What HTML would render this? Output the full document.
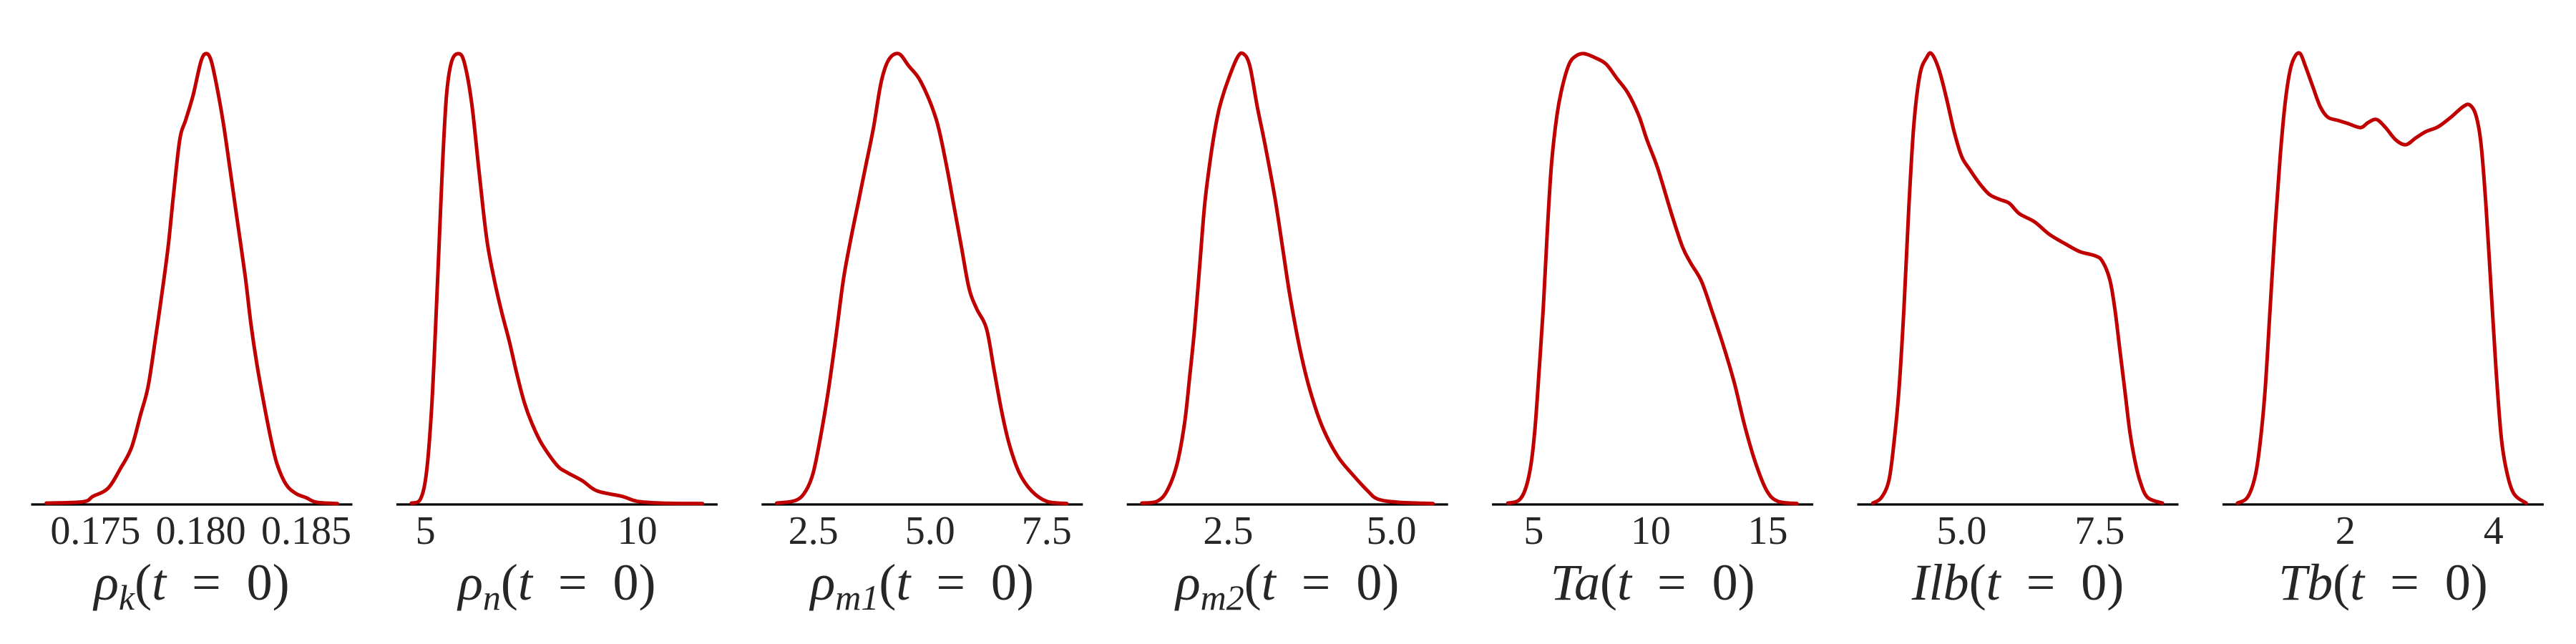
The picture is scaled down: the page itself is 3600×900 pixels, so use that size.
<!DOCTYPE html>
<html><head><meta charset="utf-8">
<style>
html,body{margin:0;padding:0;background:#fff;}
svg{display:block;}
text{font-family:"Liberation Serif","DejaVu Serif",serif;fill:#262626;}
</style></head>
<body>
<svg id="chart" width="3600" height="900" xmlns="http://www.w3.org/2000/svg"></svg>
<script>
// Panel 1: rho_k
const p1X=[0.17267,0.17441,0.17488,0.17560,0.17619,0.17671,0.17714,0.17750,0.17786,0.17814,0.17845,0.17869,0.17900,0.17929,0.17964,0.18000,0.18024,0.18048,0.18076,0.18107,0.18138,0.18171,0.18210,0.18238,0.18267,0.18302,0.18333,0.18362,0.18405,0.18452,0.18500,0.18548,0.18648];
const p1Y=[.003,.006,.018,.036,.08,.126,.199,.262,.372,.463,.572,.681,.809,.854,.909,.982,1,.986,.927,.845,.745,.636,.508,.399,.308,.217,.144,.089,.044,.024,.015,.005,.002];
// Panel 2: rho_n
const p2X=[4.668,4.882,5.024,5.142,5.237,5.32,5.403,5.498,5.616,5.77,5.912,6.09,6.268,6.445,6.623,6.801,6.979,7.156,7.334,7.512,7.749,8.104,8.341,8.697,9.052,9.645,10.0,10.592,11.540];
const p2Y=[.003,.012,.071,.208,.39,.572,.754,.909,.982,1,.982,.891,.736,.59,.499,.426,.362,.29,.226,.18,.134,.087,.071,.053,.03,.018,.007,.003,.002];
// Panel 3: rho_m1
const p3X=[1.715,2.124,2.339,2.5,2.661,2.823,2.984,3.145,3.306,3.468,3.629,3.79,3.952,4.113,4.328,4.543,4.812,5.134,5.349,5.511,5.672,5.833,5.995,6.210,6.371,6.532,6.694,6.909,7.177,7.5,7.930];
const p3Y=[.003,.009,.03,.071,.153,.253,.372,.499,.59,.672,.754,.836,.936,.986,1,.973,.936,.854,.754,.663,.572,.481,.435,.39,.299,.208,.135,.071,.03,.007,.002];
// Panel 4: rho_m2
const p4X=[1.177,1.408,1.562,1.715,1.831,1.908,1.985,2.062,2.138,2.215,2.292,2.369,2.485,2.638,2.731,2.831,2.946,3.062,3.215,3.331,3.446,3.6,3.754,3.946,4.177,4.408,4.638,4.792,5.1,5.638];
const p4Y=[.003,.007,.03,.089,.18,.281,.39,.527,.663,.754,.827,.882,.936,.991,1,.973,.882,.8,.681,.572,.463,.344,.253,.171,.107,.066,.03,.012,.005,.002];
// Panel 5: Ta
const p5X=[3.893,4.359,4.65,4.883,5.058,5.233,5.408,5.583,5.758,5.991,6.224,6.515,6.807,7.156,7.622,8.089,8.555,9.021,9.487,9.837,10.303,10.886,11.352,11.702,12.168,12.634,13.1,13.566,14.033,14.499,14.965,15.431,16.247];
const p5Y=[.003,.009,.035,.089,.171,.299,.436,.609,.754,.863,.927,.977,.995,1,.991,.977,.945,.913,.863,.809,.745,.645,.572,.536,.495,.426,.353,.271,.171,.089,.03,.007,.002];
// Panel 6: Ilb
const p6X=[3.391,3.545,3.682,3.773,3.864,3.955,4.045,4.136,4.245,4.364,4.455,4.591,4.727,4.864,5.0,5.136,5.318,5.5,5.682,5.864,6.045,6.318,6.591,6.864,7.136,7.409,7.545,7.682,7.773,7.864,7.955,8.045,8.136,8.227,8.364,8.636];
const p6Y=[.003,.015,.053,.135,.253,.435,.663,.845,.954,.991,1,.964,.9,.827,.772,.745,.713,.688,.677,.668,.645,.627,.599,.579,.561,.552,.54,.499,.435,.344,.253,.162,.098,.053,.016,.003];
// Panel 7: Tb
const p7X=[0.542,0.678,0.78,0.847,0.915,0.983,1.051,1.119,1.186,1.254,1.322,1.39,1.458,1.559,1.661,1.763,1.898,2.034,2.203,2.305,2.42,2.542,2.678,2.814,2.949,3.085,3.254,3.424,3.593,3.681,3.763,3.831,3.898,3.966,4.034,4.102,4.169,4.271,4.441];
const p7Y=[.003,.016,.062,.135,.253,.435,.617,.772,.891,.964,.995,1,.973,.927,.882,.859,.852,.845,.836,.847,.854,.836,.809,.798,.813,.827,.838,.859,.883,.886,.863,.8,.663,.481,.299,.153,.08,.025,.003];

const xLims=[[0.17195,0.18719],[4.313,11.896],[1.392,8.274],[0.946,5.869],[3.217,16.946],[3.109,8.927],[0.339,4.678]];
const tickVals=[[0.175,0.180,0.185],[5,10],[2.5,5.0,7.5],[2.5,5.0],[5,10,15],[5.0,7.5],[2,4]];
const tickLabels=[["0.175","0.180","0.185"],["5","10"],["2.5","5.0","7.5"],["2.5","5.0"],["5","10","15"],["5.0","7.5"],["2","4"]];
const labelMain=["ρ","ρ","ρ","ρ","Ta","Ilb","Tb"];
const labelSub=["k","n","m1","m2","","",""];
const seriesX=[p1X,p2X,p3X,p4X,p5X,p6X,p7X];
const seriesY=[p1Y,p2Y,p3Y,p4Y,p5Y,p6Y,p7Y];

const NS="http://www.w3.org/2000/svg";
const svg=document.getElementById('chart');
const X0=43.5, STEP=510.4, W=449, BASE=705, TOP=75;
function mk(tag,attrs,parent){const e=document.createElementNS(NS,tag);for(const k in attrs)e.setAttribute(k,attrs[k]);(parent||svg).appendChild(e);return e;}
function pathFrom(pts){
  let d='M'+pts[0][0].toFixed(2)+','+pts[0][1].toFixed(2);
  for(let i=0;i<pts.length-1;i++){
    const p0=pts[Math.max(0,i-1)],p1=pts[i],p2=pts[i+1],p3=pts[Math.min(pts.length-1,i+2)];
    const c1=[p1[0]+(p2[0]-p0[0])/6,p1[1]+(p2[1]-p0[1])/6];
    const c2=[p2[0]-(p3[0]-p1[0])/6,p2[1]-(p3[1]-p1[1])/6];
    d+=' C'+c1[0].toFixed(2)+','+c1[1].toFixed(2)+' '+c2[0].toFixed(2)+','+c2[1].toFixed(2)+' '+p2[0].toFixed(2)+','+p2[1].toFixed(2);
  }
  return d;
}
for(let i=0;i<7;i++){
  const left=X0+i*STEP;
  const [a,b]=xLims[i];
  const sx=v=>left+(v-a)/(b-a)*W;
  const sy=v=>BASE-v*(BASE-TOP);
  const g=mk('g',{});
  
  
  const ax=mk('line',{x1:left,x2:left+W,y1:BASE,y2:BASE,stroke:'#000','stroke-width':3.2},g);
  
  
  tickVals[i].forEach((t,j)=>{
    const tx=mk('text',{x:sx(t),y:760,'text-anchor':'middle','font-size':56},g);
    tx.textContent=tickLabels[i][j];
    
    
  });
  const pts=seriesX[i].map((x,k)=>[sx(x),sy(seriesY[i][k])]);
  const p=mk('path',{d:pathFrom(pts),fill:'none',stroke:'#c00000','stroke-width':5,'stroke-linejoin':'round','stroke-linecap':'round'},g);
  
  
  const lab=mk('text',{x:left+W/2,y:838,'text-anchor':'middle','font-size':72},g);
  
  
  const t1=mk('tspan',{'font-style':'italic'},lab);t1.textContent=labelMain[i];
  if(labelSub[i]){const t2=mk('tspan',{'font-style':'italic','font-size':50,dy:14},lab);t2.textContent=labelSub[i];}
  const t3=mk('tspan',{dy:labelSub[i]?-14:0},lab);t3.textContent='(';
  const t4=mk('tspan',{'font-style':'italic'},lab);t4.textContent='t';
  const t5=mk('tspan',{},lab);t5.textContent='\u2002=\u20020)';
}
</script>
</body></html>
